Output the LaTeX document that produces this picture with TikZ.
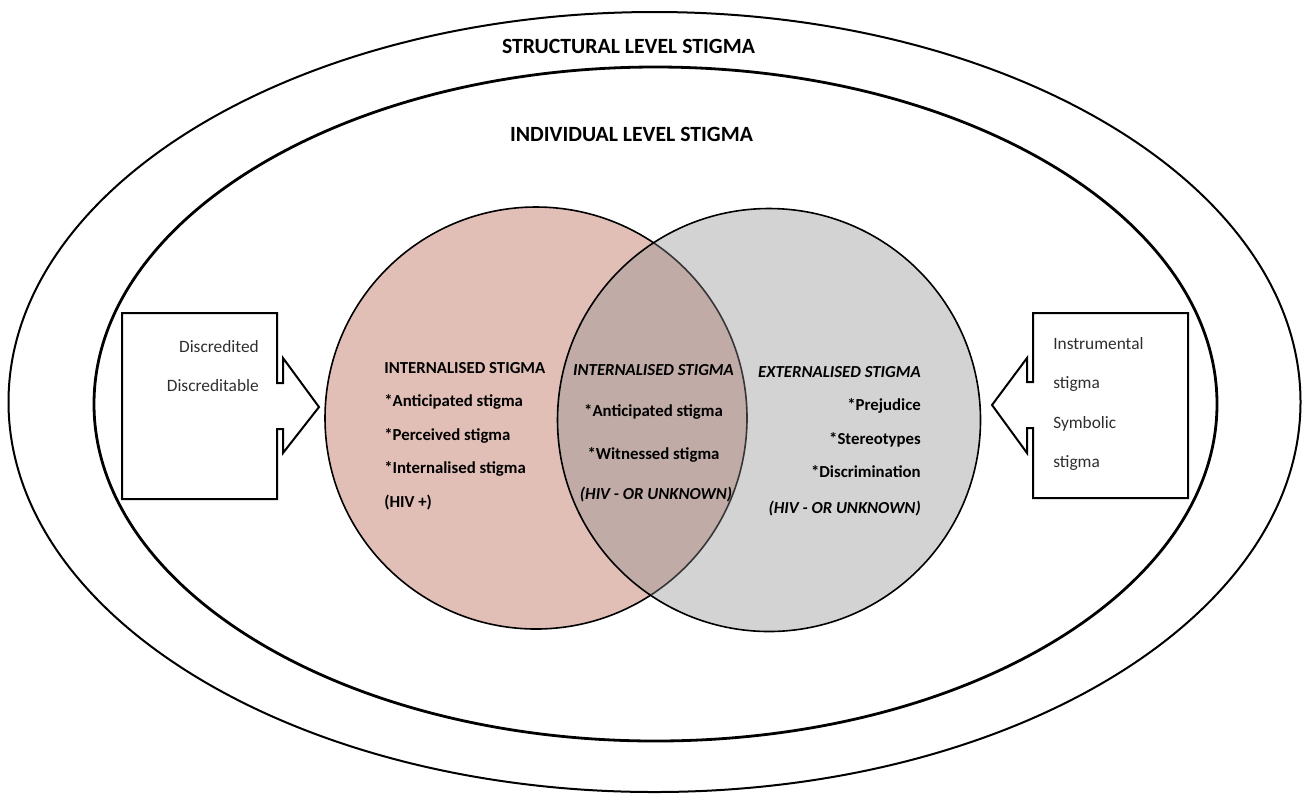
\documentclass[tikz,border=0pt]{standalone}
\usepackage{fontspec}
\setmainfont{Carlito}
\definecolor{pinkfill}{HTML}{E1BFB6}
\definecolor{greyfill}{HTML}{8D8D8D}
\tikzset{
  leveltitle/.style={font=\bfseries\fontsize{16.3}{19}\selectfont,inner sep=0pt},
  venntext/.style={font=\bfseries\fontsize{12.6}{15}\selectfont,inner sep=0pt},
  vennital/.style={venntext,font=\bfseries\itshape\fontsize{12.6}{15}\selectfont},
  boxtext/.style={font=\fontsize{13}{16}\selectfont,text=black!82,inner sep=0pt},
  callout/.style={line width=1.5pt,line join=miter}
}
\begin{document}
\begin{tikzpicture}[x=0.75pt,y=-0.75pt]
	\useasboundingbox (0,0) rectangle (1308,794);
	% levels
	\draw[line width=1.5pt] (654.5,402) ellipse (646 and 390);
	\draw[line width=2.1pt] (655.5,404) ellipse (561.5 and 337);
	\node[leveltitle,anchor=base] (structural) at (628.5,53) {STRUCTURAL LEVEL STIGMA};
	\node[leveltitle,anchor=base] (individual) at (631.5,141) {INDIVIDUAL LEVEL STIGMA};
	% venn
	\draw[line width=1.2pt,fill=pinkfill] (536,418) circle (211);
	\draw[line width=1.2pt,fill=greyfill,fill opacity=0.39] (769,420) circle (211.5);
	% callouts
	\draw[callout] (122,313)--(277,313)--(277,383)--(283,383)--(283,358)--(319,407)--(283,453)--(283,429)--(277,429)--(277,499)--(122,499)--cycle;
	\draw[callout] (1188,313)--(1033,313)--(1033,382)--(1027,382)--(1027,358)--(992,405)--(1027,453)--(1027,428)--(1033,428)--(1033,498)--(1188,498)--cycle;
	\node[boxtext,anchor=base east] (discredited) at (259,352) {Discredited};
	\node[boxtext,anchor=base east] (discreditable) at (259,391) {Discreditable};
	\node[boxtext,anchor=base west] (instr) at (1053,349) {Instrumental};
	\node[boxtext,anchor=base west] (instrst) at (1053,388) {stigma};
	\node[boxtext,anchor=base west] (symb) at (1053,428) {Symbolic};
	\node[boxtext,anchor=base west] (symbst) at (1053,467) {stigma};
	% internal
	\node[venntext,anchor=base west] (intitle) at (384,373) {INTERNALISED STIGMA};
	\node[venntext,anchor=base west] (antic) at (384,406) {*Anticipated stigma};
	\node[venntext,anchor=base west] (perc) at (384,440) {*Perceived stigma};
	\node[venntext,anchor=base west] (intern) at (384,473) {*Internalised stigma};
	\node[venntext,anchor=base west] (hivpos) at (384,507) {(HIV +)};
	% overlap
	\node[vennital,anchor=base] (midtitle) at (653.5,375) {INTERNALISED STIGMA};
	\node[venntext,anchor=base] (midantic) at (653.5,416) {*Anticipated stigma};
	\node[venntext,anchor=base] (witn) at (653.5,459) {*Witnessed stigma};
	\node[vennital,anchor=base] (midhiv) at (656,499) {(HIV - OR UNKNOWN)};
	% external
	\node[vennital,anchor=base east] (extitle) at (921,377) {EXTERNALISED STIGMA};
	\node[venntext,anchor=base east] (prej) at (921,410) {*Prejudice};
	\node[venntext,anchor=base east] (stereo) at (921,444) {*Stereotypes};
	\node[venntext,anchor=base east] (discr) at (921,477) {*Discrimination};
	\node[vennital,anchor=base east] (exthiv) at (921,513) {(HIV - OR UNKNOWN)};
\end{tikzpicture}
\end{document}
